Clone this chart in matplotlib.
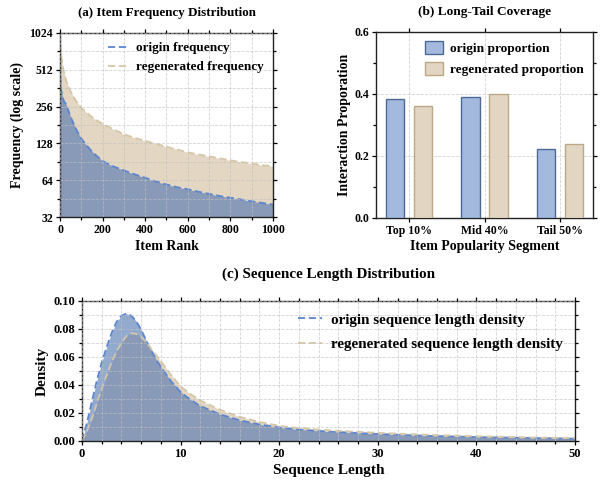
import numpy as np
import matplotlib
matplotlib.use('Agg')
import matplotlib.pyplot as plt
from matplotlib.ticker import FixedLocator, MultipleLocator, NullFormatter
from matplotlib.lines import Line2D

plt.rcParams['font.family'] = ['Liberation Serif', 'DejaVu Serif']
plt.rcParams['font.weight'] = 'bold'
plt.rcParams['axes.labelweight'] = 'bold'
plt.rcParams['axes.titleweight'] = 'bold'

# (a) item frequency by rank
rank = [0, 2, 5, 10, 15, 20, 30, 40, 50, 75, 100, 125, 150, 175, 200, 250, 300,
        350, 400, 450, 500, 550, 600, 650, 700, 750, 800, 850, 900, 950, 1000]
origin_freq = [680, 420, 350, 320, 295, 280, 265, 235, 210, 168, 140, 123, 110,
               100, 92, 83, 77, 71.5, 67, 62.5, 59, 56, 54, 51.5, 49.5, 47.5,
               46, 44.5, 43, 41.7, 40.5]
regen_freq = [1000, 820, 680, 580, 520, 480, 410, 370, 340, 285, 250, 228, 210,
              196, 185, 167, 152, 142, 134, 127, 120, 114, 108, 104, 100, 96.5,
              93, 90, 87.5, 85, 83]

# (b) long-tail coverage
segments = ['Top 10%', 'Mid 40%', 'Tail 50%']
origin_prop = [0.383, 0.390, 0.223]
regen_prop = [0.360, 0.400, 0.237]

# (c) sequence length density
seq_len = [0, 0.5, 1, 1.5, 2, 2.5, 3, 3.5, 4, 4.5, 5, 5.5, 6, 6.5, 7, 7.5, 8, 9,
           10, 11, 12, 14, 16, 18, 20, 22, 25, 30, 35, 40, 45, 50]
origin_dens = [0.0, 0.013, 0.028, 0.043, 0.056, 0.067, 0.077, 0.085, 0.0895,
               0.091, 0.0895, 0.0855, 0.0795, 0.072, 0.065, 0.0585, 0.053,
               0.043, 0.035, 0.0295, 0.025, 0.019, 0.0148, 0.0118, 0.0096,
               0.0082, 0.0067, 0.0050, 0.0037, 0.0028, 0.0022, 0.0017]
regen_dens = [0.0, 0.007, 0.016, 0.027, 0.037, 0.047, 0.056, 0.064, 0.070,
              0.075, 0.077, 0.0765, 0.0745, 0.0705, 0.066, 0.0615, 0.057,
              0.0475, 0.039, 0.0335, 0.029, 0.0222, 0.0172, 0.0136, 0.0108,
              0.0092, 0.0076, 0.0058, 0.0044, 0.0034, 0.0026, 0.0020]

blue = '#4C72B0'
blue_line = '#5b86cf'
tan = '#c8ae86'
tan_line = '#d6c6a8'
grid_kw = dict(color='#c0c0c0', linestyle='--', linewidth=0.6, alpha=0.7)


def style_axes(ax):
    for s in ax.spines.values():
        s.set_linewidth(1.0)
        s.set_color('#222222')
    ax.tick_params(which='both', direction='out', top=True, right=True,
                   labelsize=8.5, width=0.9, pad=2)
    ax.tick_params(which='major', length=3)
    ax.tick_params(which='minor', length=2)


fig = plt.figure(figsize=(6.05, 4.87), dpi=100)

# ---- (a)
ax1 = fig.add_axes([0.0992, 0.5544, 0.352, 0.378])
ax1.fill_between(rank, regen_freq, 1, color=tan, alpha=0.5, lw=0)
ax1.fill_between(rank, origin_freq, 1, color=blue, alpha=0.6, lw=0)
ax1.plot(rank, origin_freq, color=blue_line, lw=1.3, dashes=(4, 2))
ax1.plot(rank, regen_freq, color=tan_line, lw=1.3, dashes=(4, 2))
ax1.set_yscale('log', base=2)
ax1.set_xlim(0, 1000)
ax1.set_ylim(32, 1024)
yt = [32, 64, 128, 256, 512, 1024]
ax1.yaxis.set_major_locator(FixedLocator(yt))
ax1.set_yticklabels([str(v) for v in yt])
ax1.yaxis.set_minor_locator(FixedLocator([v * 2 ** 0.5 for v in yt[:-1]]))
ax1.yaxis.set_minor_formatter(NullFormatter())
ax1.xaxis.set_major_locator(MultipleLocator(200))
ax1.xaxis.set_minor_locator(MultipleLocator(100))
ax1.grid(True, which='both', **grid_kw)
ax1.set_axisbelow(False)
style_axes(ax1)
ax1.set_title('(a) Item Frequency Distribution', fontsize=9.4, pad=12)
ax1.set_xlabel('Item Rank', fontsize=10, labelpad=3)
ax1.set_ylabel('Frequency (log scale)', fontsize=10, labelpad=4)
h1 = [Line2D([], [], color=blue_line, lw=1.3, dashes=(4, 2)),
      Line2D([], [], color=tan_line, lw=1.3, dashes=(4, 2))]
ax1.legend(h1, ['origin frequency', 'regenerated frequency'], loc='upper right',
           frameon=False, fontsize=9.5, handlelength=1.6, handletextpad=0.5,
           borderaxespad=0.3)

# ---- (b)
ax2 = fig.add_axes([0.6215, 0.5524, 0.3587, 0.382])
x = np.arange(len(segments))
ax2.bar(x - 0.186, origin_prop, width=0.24, color='#a3b9de', edgecolor='#4d6a96',
        linewidth=1.0, label='origin proportion', zorder=3)
ax2.bar(x + 0.186, regen_prop, width=0.24, color='#e2d5c1', edgecolor='#bba886',
        linewidth=1.0, label='regenerated proportion', zorder=3)
ax2.set_xticks(x)
ax2.set_xticklabels(segments)
ax2.set_ylim(0, 0.6)
ax2.yaxis.set_major_locator(MultipleLocator(0.2))
ax2.yaxis.set_minor_locator(MultipleLocator(0.1))
ax2.grid(True, which='major', **grid_kw)
ax2.set_axisbelow(True)
style_axes(ax2)
ax2.tick_params(axis='x', which='minor', top=False, bottom=False)
ax2.set_title('(b) Long-Tail Coverage', fontsize=9.6, pad=12)
ax2.set_xlabel('Item Popularity Segment', fontsize=10, labelpad=2)
ax2.set_ylabel('Interaction Proporation', fontsize=10, labelpad=2)
ax2.legend(loc='upper right', frameon=False, fontsize=9.6, handlelength=1.4,
           handleheight=1.1, handletextpad=0.5, borderaxespad=0.3)

# ---- (c)
ax3 = fig.add_axes([0.1355, 0.0945, 0.815, 0.2875])
ax3.fill_between(seq_len, regen_dens, 0, color=tan, alpha=0.5, lw=0)
ax3.fill_between(seq_len, origin_dens, 0, color=blue, alpha=0.6, lw=0)
ax3.plot(seq_len, origin_dens, color=blue_line, lw=1.3, dashes=(4, 2))
ax3.plot(seq_len, regen_dens, color=tan_line, lw=1.3, dashes=(4, 2))
ax3.set_xlim(0, 50)
ax3.set_ylim(0, 0.10)
ax3.xaxis.set_major_locator(MultipleLocator(10))
ax3.xaxis.set_minor_locator(MultipleLocator(2))
ax3.yaxis.set_major_locator(MultipleLocator(0.02))
ax3.yaxis.set_minor_locator(MultipleLocator(0.01))
ax3.yaxis.set_major_formatter(matplotlib.ticker.FormatStrFormatter('%.2f'))
ax3.grid(True, which='both', **grid_kw)
ax3.set_axisbelow(False)
style_axes(ax3)
ax3.tick_params(labelsize=9)
ax3.set_title('(c) Sequence Length Distribution', fontsize=10.9, pad=17)
ax3.set_xlabel('Sequence Length', fontsize=11, labelpad=3)
ax3.set_ylabel('Density', fontsize=11, labelpad=3)
h3 = [Line2D([], [], color=blue_line, lw=1.3, dashes=(4, 2)),
      Line2D([], [], color=tan_line, lw=1.3, dashes=(4, 2))]
ax3.legend(h3, ['origin sequence length density',
                'regenerated sequence length density'],
           loc='upper right', frameon=False, fontsize=10.9, handlelength=1.6,
           handletextpad=0.6, borderaxespad=0.4, labelspacing=0.7)

fig.savefig('out.png', dpi=100)
